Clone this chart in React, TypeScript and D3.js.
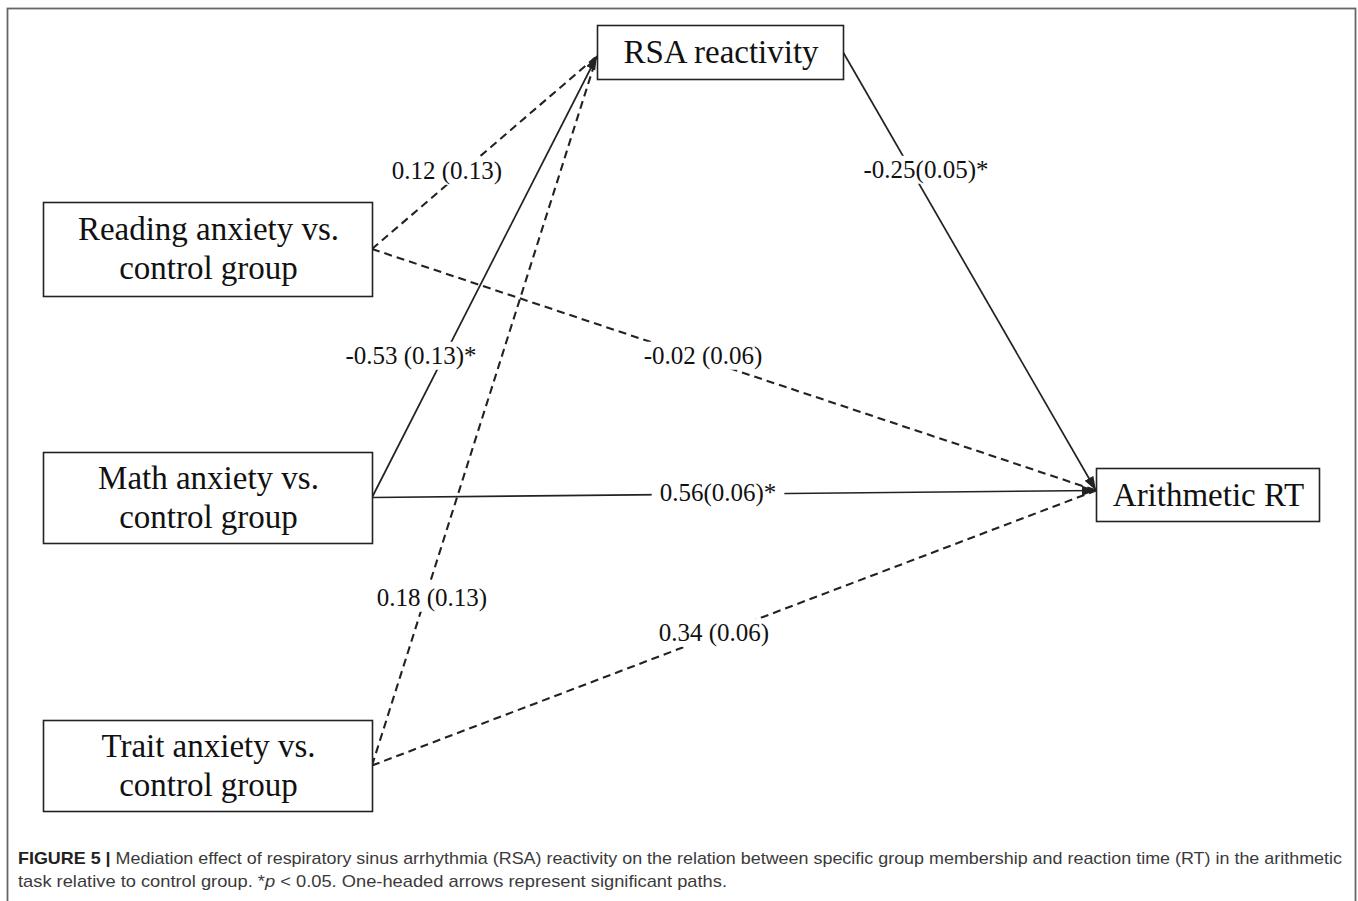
import React, { useRef, useEffect } from 'react';
import * as d3 from 'd3';

// nodes of the path model
const boxIds = ['reading', 'math', 'trait', 'rsa', 'rt'];
const boxText = [
  ['Reading anxiety vs.', 'control group'],
  ['Math anxiety vs.', 'control group'],
  ['Trait anxiety vs.', 'control group'],
  ['RSA reactivity'],
  ['Arithmetic RT'],
];

// paths (coefficient (SE), * = significant)
const pathFrom = ['reading', 'math', 'trait', 'rsa', 'reading', 'math', 'trait'];
const pathTo = ['rsa', 'rsa', 'rsa', 'rt', 'rt', 'rt', 'rt'];
const pathCoef = ['0.12 (0.13)', '-0.53 (0.13)*', '0.18 (0.13)', '-0.25(0.05)*', '-0.02 (0.06)', '0.56(0.06)*', '0.34 (0.06)'];
const pathSig = [false, true, false, true, false, true, false];

const captionBold = 'FIGURE 5 |';
const captionLine1 =
  ' Mediation effect of respiratory sinus arrhythmia (RSA) reactivity on the relation between specific group membership and reaction time (RT) in the arithmetic';
const captionLine2 = 'task relative to control group. *';
const captionLine2b = ' < 0.05. One-headed arrows represent significant paths.';

// layout (pixels)
const boxRect: Record<string, [number, number, number, number]> = {
  reading: [43, 202, 372, 296],
  math: [43, 452, 372, 543],
  trait: [43, 720, 372, 811],
  rsa: [597, 25, 843, 79],
  rt: [1096, 468, 1319, 521],
};
const labelPos: [number, number][] = [
  [447, 170],
  [411, 355],
  [432, 597],
  [926, 169],
  [703, 355],
  [718, 492],
  [714, 632],
];

const W = 1358;
const H = 901;

const App: React.FC = () => {
  const svgRef = useRef<SVGSVGElement | null>(null);

  useEffect(() => {
    const svg = d3.select(svgRef.current);
    svg.selectAll('*').remove();
    svg.attr('width', W).attr('height', H);

    svg.append('rect').attr('width', W).attr('height', H).attr('fill', '#fff');

    // outer frame
    svg
      .append('rect')
      .attr('x', 7.5)
      .attr('y', 8.5)
      .attr('width', 1348)
      .attr('height', 1000)
      .attr('fill', 'none')
      .attr('stroke', '#666')
      .attr('stroke-width', 1.8);

    const defs = svg.append('defs');
    defs
      .append('marker')
      .attr('id', 'head')
      .attr('markerUnits', 'userSpaceOnUse')
      .attr('markerWidth', 16)
      .attr('markerHeight', 12)
      .attr('refX', 14)
      .attr('refY', 5)
      .attr('orient', 'auto')
      .append('path')
      .attr('d', 'M0,0 L14,5 L0,10 Z')
      .attr('fill', '#222');

    const center = (id: string) => {
      const r = boxRect[id];
      return [(r[0] + r[2]) / 2, (r[1] + r[3]) / 2];
    };
    const startPt = (id: string): [number, number] => {
      const r = boxRect[id];
      const c = center(id);
      return [r[2], c[1]];
    };
    const endPt = (id: string): [number, number] => {
      const r = boxRect[id];
      const c = center(id);
      return id === 'rsa' ? [r[0], c[1] + 4] : [r[0], c[1] - 4];
    };

    const line = d3.line<[number, number]>();
    const gPaths = svg.append('g');
    pathFrom.forEach((from, i) => {
      const a = startPt(from);
      const b = endPt(pathTo[i]);
      const p = gPaths
        .append('path')
        .attr('d', line([a, b]))
        .attr('fill', 'none')
        .attr('stroke', '#222')
        .attr('stroke-width', pathSig[i] ? 1.7 : 2.1)
        .attr('stroke-dasharray', pathSig[i] ? null : '8,5');
      if (pathSig[i]) p.attr('marker-end', 'url(#head)');
    });

    // coefficient labels with white backing
    const gLab = svg.append('g');
    pathCoef.forEach((c, i) => {
      const g = gLab.append('g');
      const t = g
        .append('text')
        .attr('x', labelPos[i][0])
        .attr('y', labelPos[i][1])
        .attr('dy', '0.35em')
        .attr('text-anchor', 'middle')
        .attr('font-family', '"Liberation Serif", "Times New Roman", serif')
        .attr('font-size', 25)
        .attr('fill', '#111')
        .text(c);
      const bb = (t.node() as SVGTextElement).getBBox();
      g.insert('rect', 'text')
        .attr('x', bb.x - 8)
        .attr('y', bb.y)
        .attr('width', bb.width + 16)
        .attr('height', bb.height)
        .attr('fill', '#fff');
    });

    // boxes
    const gBox = svg.append('g');
    boxIds.forEach((id, i) => {
      const r = boxRect[id];
      gBox
        .append('rect')
        .attr('x', r[0] + 0.5)
        .attr('y', r[1] + 0.5)
        .attr('width', r[2] - r[0])
        .attr('height', r[3] - r[1])
        .attr('fill', '#fff')
        .attr('stroke', '#222')
        .attr('stroke-width', 1.6);
      const c = center(id);
      const lines = boxText[i];
      const offs = lines.length === 1 ? [11] : [-9, 30];
      lines.forEach((s, j) => {
        gBox
          .append('text')
          .attr('x', c[0] + 1)
          .attr('y', c[1] + offs[j])
          .attr('text-anchor', 'middle')
          .attr('font-family', '"Liberation Serif", "Times New Roman", serif')
          .attr('font-size', 33)
          .attr('fill', '#111')
          .text(s);
      });
    });

    // caption
    const cap = svg
      .append('g')
      .attr('font-family', '"Liberation Sans", Arial, sans-serif')
      .attr('font-size', 17)
      .attr('fill', '#3a3a3a');
    const t1 = cap
      .append('text')
      .attr('x', 18)
      .attr('y', 864)
      .attr('textLength', 1324)
      .attr('lengthAdjust', 'spacingAndGlyphs');
    t1.append('tspan').attr('font-weight', 'bold').attr('fill', '#222').text(captionBold);
    t1.append('tspan').text(captionLine1);
    const t2 = cap
      .append('text')
      .attr('x', 18)
      .attr('y', 887)
      .attr('textLength', 709)
      .attr('lengthAdjust', 'spacingAndGlyphs');
    t2.append('tspan').text(captionLine2);
    t2.append('tspan').attr('font-style', 'italic').text('p');
    t2.append('tspan').text(captionLine2b);
  }, []);

  return (
    <div style={{ position: 'absolute', left: 0, top: 0 }}>
      <svg ref={svgRef} style={{ display: 'block' }}></svg>
    </div>
  );
};

export default App;
